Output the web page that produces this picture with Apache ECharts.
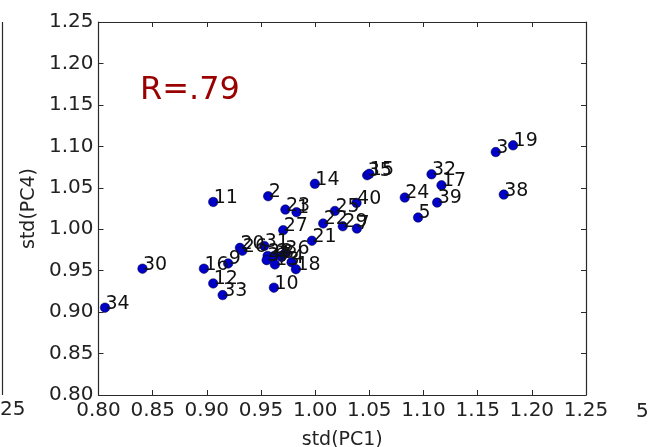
<!DOCTYPE html>
<html>
<head>
<meta charset="utf-8">
<script src="https://cdn.jsdelivr.net/npm/echarts@6/dist/echarts.min.js"></script>
<style>html,body{margin:0;padding:0;background:#fff}#c{width:648px;height:447px}</style>
</head>
<body>
<div id="c"></div>
<script>
const names = ['34','30','16','9','12','33','10','11','2','14','23','1','27','21','22','25','40','35','15','29','7','20','26','31','28','37','6','13','8','36','4','18','24','5','32','17','39','3','19','38'];
const pc1 = [0.806,0.8406,0.8973,0.9197,0.9059,0.9146,0.9619,0.9059,0.9566,0.9997,0.9725,0.9828,0.9705,0.9970,1.0074,1.0182,1.0382,1.0480,1.0500,1.0255,1.0385,0.9305,0.9328,0.9530,0.9561,0.9552,0.9622,0.9628,0.9690,0.9720,0.9782,0.9822,1.0827,1.0950,1.1074,1.1166,1.1126,1.1667,1.1827,1.1741];
const pc4 = [0.9054,0.9524,0.9524,0.9587,0.9346,0.9205,0.9295,1.0329,1.0398,1.0548,1.0237,1.0205,0.9988,0.9861,1.0069,1.0220,1.0317,1.0651,1.0669,1.0036,1.0008,0.9775,0.9741,0.9799,0.9678,0.9627,0.9678,0.9575,0.9666,0.9707,0.9602,0.9518,1.0382,1.0141,1.0663,1.0530,1.0322,1.0931,1.1012,1.0418];
const xTicks = ['0.80','0.85','0.90','0.95','1.00','1.05','1.10','1.15','1.20','1.25'];
const yTicks = ['0.80','0.85','0.90','0.95','1.00','1.05','1.10','1.15','1.20','1.25'];
const corrText = 'R=.79';

const data = names.map((n,i)=>({value:[pc1[i],pc4[i]], name:n}));
const FONT = 'DejaVu Sans';
const axisCommon = {
  min: 0.80, max: 1.25, interval: 0.05,
  axisLine:{show:true, onZero:false, lineStyle:{color:'#2a2a2a', width:1.2}},
  axisTick:{show:true, inside:true, length:5, lineStyle:{color:'#2a2a2a'}},
  splitLine:{show:false}
};
const chart = echarts.init(document.getElementById('c'), null, {renderer:'canvas'});
chart.setOption({
  animation:false,
  backgroundColor:'#ffffff',
  grid:{left:98.5, right:62, top:22, bottom:52, containLabel:false, outerBoundsMode:'none'},
  xAxis:[
    Object.assign({}, axisCommon, {type:'value', position:'bottom',
      name:'std(PC1)', nameLocation:'middle', nameGap:36,
      nameTextStyle:{fontFamily:FONT, fontSize:19, color:'#222'},
      axisLabel:{fontFamily:FONT, fontSize:20, color:'#222', margin:6,
        formatter:(v)=>xTicks[Math.round((v-0.80)/0.05)]}}),
    Object.assign({}, axisCommon, {type:'value', position:'top', axisLabel:{show:false}})
  ],
  yAxis:[
    Object.assign({}, axisCommon, {type:'value', position:'left',
      name:'std(PC4)', nameLocation:'middle', nameGap:58,
      nameTextStyle:{fontFamily:FONT, fontSize:19, color:'#222'},
      axisLabel:{fontFamily:FONT, fontSize:20, color:'#222', margin:5,
        formatter:(v)=>yTicks[Math.round((v-0.80)/0.05)]}}),
    Object.assign({}, axisCommon, {type:'value', position:'right', axisLabel:{show:false}})
  ],
  series:[{
    type:'scatter',
    data: data,
    symbol:'circle',
    symbolSize:9.5,
    itemStyle:{color:'#0000c8', borderColor:'#000033', borderWidth:0.5, opacity:1},
    label:{show:true, formatter:(p)=>p.name, position:[5.5,10.5], align:'left', verticalAlign:'bottom',
      fontFamily:FONT, fontSize:19, color:'#111'},
    labelLayout:{hideOverlap:false},
    z:3
  }],
  graphic:[
    {type:'text', left:140, top:75, style:{text:corrText, font:'32px "DejaVu Sans"', fill:'#990000'}},
    {type:'line', shape:{x1:2.5, y1:22, x2:2.5, y2:395}, style:{stroke:'#2a2a2a', lineWidth:1.2}},
    {type:'text', left:0, top:400, style:{text:'25', font:'20px "DejaVu Sans"', fill:'#222'}},
    {type:'text', left:636, top:402, style:{text:'5', font:'20px "DejaVu Sans"', fill:'#222'}}
  ]
});
</script>
</body>
</html>
